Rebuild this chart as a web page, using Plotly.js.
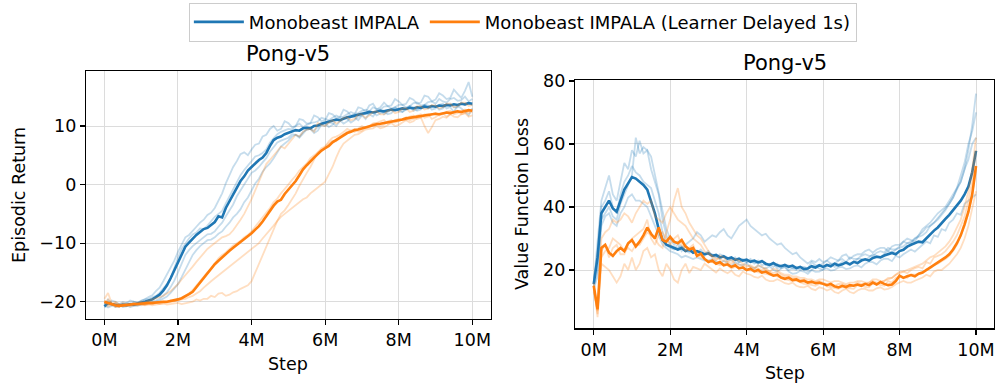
<!DOCTYPE html>
<html><head><meta charset="utf-8">
<script src="https://cdn.plot.ly/plotly-3.0.1.min.js"></script>
<style>html,body{margin:0;padding:0;background:#fff}#chart{width:995px;height:383px}</style>
</head><body><div id="chart"></div>
<script>
// ---------- data ----------
const steps = [0,0.1,0.2,0.3,0.4,0.5,0.6,0.7,0.8,0.9,1.0,1.1,1.2,1.3,1.4,1.5,1.6,1.7,1.8,1.9,2.0,2.1,2.2,2.3,2.4,2.5,2.6,2.7,2.8,2.9,3.0,3.1,3.2,3.3,3.4,3.5,3.6,3.7,3.8,3.9,4.0,4.1,4.2,4.3,4.4,4.5,4.6,4.7,4.8,4.9,5.0,5.1,5.2,5.3,5.4,5.5,5.6,5.7,5.8,5.9,6.0,6.1,6.2,6.3,6.4,6.5,6.6,6.7,6.8,6.9,7.0,7.1,7.2,7.3,7.4,7.5,7.6,7.7,7.8,7.9,8.0,8.1,8.2,8.3,8.4,8.5,8.6,8.7,8.8,8.9,9.0,9.1,9.2,9.3,9.4,9.5,9.6,9.7,9.8,9.9,10.0];

// Episodic return (left panel)
const returnMeanBase = [-20.8,-20.2,-20.4,-20.6,-20.7,-20.5,-20.6,-20.4,-20.5,-20.3,-20.2,-20.0,-19.8,-19.6,-19.2,-18.8,-18.1,-17.2,-16.0,-14.6,-13.2,-11.8,-10.6,-9.9,-9.2,-8.6,-8.1,-7.6,-7.4,-6.9,-6.4,-5.4,-5.6,-4.0,-2.8,-1.6,-0.4,0.6,1.4,2.4,3.0,3.6,4.2,4.6,5.4,6.6,7.6,8.0,8.2,8.6,8.8,9.0,9.3,9.2,9.6,9.7,9.6,10.0,10.1,10.4,10.6,10.7,10.9,11.1,11.0,11.3,11.5,11.6,11.8,11.9,12.1,12.2,12.4,12.3,12.5,12.6,12.5,12.7,12.8,12.7,12.9,13.0,12.9,13.1,13.0,13.2,13.1,13.3,13.2,13.4,13.3,13.5,13.4,13.6,13.5,13.7,13.6,13.8,13.7,13.9,13.8];
const returnMeanDelayed = [-20.0,-20.2,-20.5,-20.6,-20.7,-20.6,-20.5,-20.5,-20.4,-20.4,-20.3,-20.3,-20.2,-20.2,-20.1,-20.1,-20.0,-20.0,-19.9,-19.8,-19.6,-19.4,-19.1,-18.7,-18.3,-17.5,-16.6,-15.8,-15.0,-14.3,-13.6,-13.0,-12.4,-11.9,-11.3,-10.8,-10.3,-9.9,-9.4,-8.9,-8.3,-7.7,-7.1,-6.3,-5.4,-4.4,-3.6,-2.9,-2.6,-1.6,-0.9,-0.1,0.6,1.6,2.6,3.3,4.0,4.6,5.2,5.8,6.2,6.6,7.2,7.6,8.0,8.3,8.8,9.0,9.3,9.4,9.6,9.8,10.0,10.1,10.3,10.4,10.5,10.6,10.8,10.9,11.0,11.1,11.3,11.4,11.5,11.6,11.7,11.8,11.8,12.0,12.1,12.0,12.2,12.3,12.2,12.4,12.5,12.4,12.6,12.7,12.6];
const returnSeedsBase = [
  [-20.5,-19.6,-20.3,-20.8,-20.4,-20.6,-20.2,-20.5,-20.0,-20.3,-19.8, -19.6,-19.2,-18.9,-18.2,-17.6,-16.5,-15.4,-14.2,-13.0,-11.5, -10.2,-9.0,-8.6,-7.8,-7.2,-6.5,-6.0,-5.2,-4.8,-4.0, -2.8,-1.5,0.2,1.5,3.0,4.0,5.2,5.5,5.0,6.0, 6.8,7.0,8.2,8.5,9.5,10.0,9.2,9.5,10.8,10.5, 9.8,10.0,11.2,11.0,10.4,10.5,11.8,11.5,10.8,11.0, 12.2,12.0,11.4,11.5,12.8,12.5,11.8,12.0,13.2,13.0, 12.4,13.5,13.8,12.8,13.2,14.0,13.4,13.5,14.6,14.2, 13.6,13.8,14.8,14.5,13.8,14.0,15.2,15.0,14.2,14.5, 15.6,15.2,14.6,14.8,16.2,15.5,14.8,16.0,17.5,15.0],
  [-21.0,-20.4,-20.5,-20.9,-20.8,-20.6,-20.6,-20.9,-20.7,-20.5,-20.4, -20.3,-20.2,-19.9,-19.8,-19.5,-19.0,-18.4,-17.5,-16.4,-15.0, -13.4,-12.0,-11.2,-10.5,-10.0,-9.5,-9.0,-8.5,-8.4,-8.0, -7.2,-6.5,-5.4,-4.5,-3.4,-2.0,-1.0,0.0,1.2,2.0, 2.4,3.0,3.8,4.5,5.6,6.5,7.2,7.5,7.8,8.0, 8.6,8.5,8.2,9.0,9.4,9.5,9.2,9.8,10.2,10.5, 9.8,10.2,10.9,11.0,10.4,10.8,11.6,11.5,11.0,11.8, 12.2,12.0,11.6,12.5,12.8,12.0,12.4,12.8,13.2,12.5, 12.4,13.0,13.4,12.6,12.8,13.2,13.6,13.0,13.2,13.5, 12.8,13.0,13.6,13.8,13.2,13.2,14.0,13.6,14.0,13.5],
  [-20.6,-21.0,-20.7,-20.4,-20.5,-20.9,-20.8,-20.5,-20.6,-20.7,-20.5, -20.4,-20.3,-20.2,-20.0,-19.8,-19.5,-19.1,-18.5,-17.8,-17.0, -15.8,-14.5,-13.2,-12.0,-11.2,-10.5,-10.0,-9.5,-9.4,-9.0, -8.4,-8.0,-7.2,-6.5,-5.6,-5.0,-4.2,-3.0,-2.2,-1.0, 0.2,1.0,2.2,3.0,3.6,4.5,5.6,6.5,7.0,7.5, 8.2,8.5,8.0,8.8,9.4,9.5,8.8,9.2,10.2,10.0, 10.6,10.5,10.0,10.8,11.4,11.2,10.6,11.0,11.6,11.8, 11.2,12.2,12.4,11.8,12.2,12.5,12.0,12.2,13.0,13.0, 12.4,12.8,13.4,13.2,12.6,12.8,13.6,13.5,12.8,13.0, 13.6,13.8,13.0,13.2,12.4,13.5,13.0,12.5,11.8,13.0],
  [-20.2,-20.5,-19.8,-20.0,-20.4,-20.1,-20.3,-19.8,-20.0,-20.1,-19.9, -19.6,-19.5,-19.3,-19.0,-18.5,-17.8,-17.0,-16.0,-14.2,-12.5, -11.0,-10.0,-9.2,-8.5,-8.2,-7.5,-7.6,-7.0,-6.2,-5.5, -5.0,-4.5,-3.2,-2.0,-0.8,0.5,1.6,2.5,3.2,4.0, 4.8,5.0,5.4,6.0,7.2,8.0,8.6,9.0,9.2,9.5, 9.4,10.0,10.4,9.8,10.2,10.5,10.6,10.8,11.4,11.2, 11.0,11.4,11.8,11.5,11.6,12.0,12.4,12.1,12.2,12.6, 12.8,12.5,13.2,12.9,12.8,13.3,13.4,13.0,13.2,13.6, 13.6,13.2,13.4,13.9,14.0,13.5,13.6,14.1,14.2,13.8, 14.6,14.2,14.0,14.6,14.8,14.3,14.4,15.0,14.2,14.6]
];
const returnSeedsDelayed = [
  [-19.5,-18.5,-20.3,-20.0,-20.6,-20.2,-20.4,-20.5,-20.2,-20.3,-20.0, -20.1,-19.8,-19.6,-19.5,-19.2,-19.0,-18.6,-18.2,-17.6,-17.0, -16.2,-15.5,-14.8,-14.0,-13.2,-12.5,-11.8,-11.0,-10.5,-10.0, -9.4,-9.0,-8.8,-8.5,-7.8,-7.0,-6.0,-5.0,-3.8,-2.5, -1.0,0.5,2.0,3.5,4.2,5.0,5.8,6.5,6.2,7.0, 7.8,8.5,8.2,9.0,9.4,9.5,9.0,10.5,10.2,10.0, 10.6,11.0,10.4,10.8,11.4,11.5,11.0,11.2,12.0,12.0, 11.4,11.8,12.4,12.5,12.0,12.0,12.6,12.8,12.2,12.4, 13.0,13.0,12.4,12.6,13.4,13.4,12.8,13.0,13.6,13.5, 13.0,13.2,13.8,13.8,13.2,13.4,14.0,14.0,13.4,13.6],
  [-20.0,-20.8,-20.5,-20.9,-20.8,-20.6,-20.7,-20.6,-20.5,-20.6,-20.4, -20.5,-20.3,-20.4,-20.2,-20.1,-20.0,-20.1,-19.8,-19.9,-19.5, -19.4,-19.0,-18.6,-18.0,-17.2,-16.5,-15.8,-15.0,-14.4,-13.5, -12.6,-12.0,-11.6,-11.0,-10.4,-10.0,-9.6,-9.0,-8.6,-8.0, -7.2,-6.5,-5.8,-5.0,-4.0,-3.0,-2.4,-1.5,-0.8,0.0, 0.8,1.5,2.4,3.0,3.6,4.5,5.0,5.5,6.2,6.5, 7.0,7.5,7.4,8.0,8.6,9.0,9.2,9.5,9.0,9.2, 9.8,10.0,10.4,10.5,10.0,10.2,10.8,11.0,10.6,10.8, 11.2,11.5,11.0,11.2,11.8,12.0,11.4,11.6,12.0,12.2, 11.8,12.0,12.4,12.6,12.0,12.2,12.6,12.8,12.2,12.4],
  [-19.8,-20.4,-20.6,-20.2,-20.4,-20.8,-20.7,-20.5,-20.5,-20.3,-20.6, -20.5,-20.4,-20.6,-20.5,-20.4,-20.3,-20.5,-20.4,-20.2,-20.2, -20.4,-20.3,-20.1,-20.0,-19.6,-19.8,-19.5,-19.5,-19.0,-19.2, -18.6,-18.5,-19.0,-18.8,-18.4,-18.2,-17.8,-17.5,-17.2,-16.5, -15.0,-13.5,-12.0,-10.5,-9.0,-7.5,-6.2,-5.0,-4.4,-3.5, -2.6,-1.5,-0.2,1.0,2.0,3.0,4.2,5.5,5.8,6.5, 7.4,8.0,8.2,8.5,9.0,9.5,9.2,9.0,9.6,10.0, 9.6,9.8,10.4,10.5,10.8,11.0,10.4,10.6,11.0,11.2, 11.0,11.0,11.6,11.8,11.2,11.4,12.0,12.0,11.2,11.5, 12.0,12.2,11.6,12.0,12.4,12.6,12.0,12.2,12.6,12.8],
  [-20.3,-19.6,-20.4,-20.6,-20.9,-20.5,-20.5,-20.8,-20.6,-20.4,-20.3, -20.6,-20.5,-20.3,-20.2,-20.4,-20.3,-20.1,-20.0,-19.9,-19.8, -19.6,-19.5,-19.2,-19.0,-18.6,-18.2,-17.6,-17.0,-16.5,-16.0, -15.5,-15.0,-14.5,-14.0,-13.4,-13.0,-12.5,-12.0,-11.4,-11.0, -10.4,-10.0,-9.2,-8.5,-7.8,-7.0,-6.2,-5.5,-5.0,-4.5, -4.0,-3.5,-3.0,-2.5,-2.2,-1.5,-1.0,-0.5,0.0,0.5, 1.8,3.0,4.6,6.0,7.0,7.5,8.0,8.5,8.6,9.0, 9.4,9.5,9.6,10.0,9.6,9.8,10.2,10.5,10.0,10.2, 10.6,11.0,10.6,10.8,11.4,11.5,10.0,8.8,9.8,11.0, 11.2,11.6,11.4,12.0,11.6,11.5,12.0,12.2,11.6,11.8]
];

// Value function loss (right panel)
const lossMeanBase = [15.5,24,38,40,42,39.5,38.5,42,45.5,47.5,49.5,49,48,47,45.5,42,38,33,29.5,28,27.5,27,26.5,27,26,26.5,25.5,26,25.5,25,25.3,24.5,24.8,24,24.3,23.6,24,23.2,23.6,23,23.3,22.6,23,22.4,22.8,22,21.6,22.2,21.5,21.2,21.6,21,21.4,20.6,21,20.3,20.5,21.2,20.8,21.5,21,21.6,21.2,22,21.5,21.8,22.4,21.8,22.6,22.2,23,23.4,23,23.8,24.2,24,24.6,25,25.4,25,26,26.4,27.4,28,28.4,29,28.8,30,31.5,32.5,33.5,35,36.2,37.5,39,40.5,42,44,46.5,51,57.8];
const lossMeanDelayed = [15,7.5,27,28,25.5,24.5,26,27,26,28.5,29.5,27.5,29,31,33.5,31.5,30,33.5,29.5,29,30.5,29,28.5,29.5,27.5,26.5,27,24.5,25.2,23.5,22.5,23,22,22.5,21.5,21.8,21,21.5,20.5,20.8,20,20.4,19.6,20,19.2,19.5,18.8,18.2,18.5,17.6,17.2,17.6,16.8,17,16.4,16.6,16,16.3,15.8,16,15.6,15.2,15.6,14.8,14.5,15,14.6,15.2,15,15.4,15,15.6,15.2,16,15.4,16.2,15.6,15.2,15.4,16.5,18.2,17.5,18,18.4,18,18.8,19.2,20,20.8,21.6,22.4,23,24,25,26.5,28.5,31,34.5,38.5,44,53];
const lossSeedsBase = [
  [16,30,42,46,50,44,42,48,54,52,58, 56,61,57,58,52,48,44,36,31,28, 27,28,26,27.5,26,27,25.5,26.5,25,26, 24.5,24,25,24.5,23,23.5,24,22.5,23.5,22.5, 23,22,23,21.5,22,21.5,22,20.5,21.5,21, 20,20.5,21,20,20.5,19.5,20,21,20.5,20, 21.5,22,21,21.5,22.5,22,21.5,22.5,23.5,23.5, 23,24,25,24.5,24,25,26,25.5,26.5,27, 27.5,28.5,29,30,30.5,31,32,34,35,36, 37.5,39,41,43,45.5,48,52,58,66,76],
  [15,20,36,38,40,37,36,41,44,47,50, 62,57,59,58,56,50,44,38,33,30, 28,29,27,28,29,30,32,31,29,30, 31,30.5,32,33,31,30,32,34,35,36, 34,33,32,31,31.5,30,29,28,28.5,27, 26,25,25.5,24,23,22,23,22.5,23.5,22.5, 23,24,23.5,23,24.5,25,23.5,24.5,25,25, 26,26.5,25.5,26.5,27,27,26,27.5,28,28, 29,30,29.5,29,31,33,34,35,36.5,38, 39,40,42,44,46,50,54,60,64,70],
  [14,18,34,37,38,35,34,38,40,43,44, 42,42,41,40,37,34,31,28,27,26, 25.5,25,24,24.5,24,23.5,24,23.5,23,23, 23.5,22.8,22,23,22,21.2,22.5,21.8,21.5,22.2, 21,20.4,21.5,20.8,20.5,21.2,20,19.5,20.5,20.9, 19.5,18.8,19,19.8,19.5,18.8,20,19.4,19.5,20.2, 20.5,19.8,20,20.8,21,20.3,20.5,21.2,21.5,20.8, 22,22.6,22.5,21.8,23,23.6,23.5,22.8,24.5,24, 25,25.8,26.5,25.8,27,28,29,28.5,31,30.5, 33,32.5,35,36,38,37.5,41,42,43,44],
  [16,26,40,42,45,40,38,44,48,50,53, 51,50,48,47,46,42,38,32,28,27, 26.5,27,27.5,26,25.5,26.5,26,25,24.5,25.5, 25,24.5,23.5,24.5,24,23,23.5,22.5,23,22.5, 23.5,22.5,22,23,21.5,22,21,22,20.5,21.5, 21.5,20.5,20,21,21,20.5,22.5,21.5,21.5,22, 23,22,22,23,23.5,22.5,24,23.5,23.5,24.5, 25,24.5,24.5,25.5,26,25.5,27,26.5,26.5,27.5, 29,28.5,28.5,30,31,32,33.5,34,35,36.5, 38,39.5,41,43,46,48,52,55,60,62]
];
const lossSeedsDelayed = [
  [14,6,30,32,33,36,35,36,38,37,35, 38,40,42,41,42,37,36,35,38,40, 38,36,35,34,32,30,29,28,26,25, 24.5,23.6,23.5,22.8,22.5,23.2,22,21.6,21.5,21, 21.5,20.8,20.5,20,20.6,19.5,19,19.4,18.5,18, 18,17.4,17.5,16.8,17,16.5,15.8,16.2,16.5,16, 15.5,15,15,15.6,15.5,15,14.6,15.2,16,15.6, 15.5,16,16.5,16,16,16.6,17,17.5,18.5,19, 19.5,19,20,20.6,21,20.5,22.5,22,24,24.5, 25,26,27.5,29,31,34,37,42,48,58],
  [16,5,22,21,20,18,16,18,22,20,24, 20,22,26,27,24,25,20,18,22,20, 17,16,20,22,19,21,20.5,20,22,21, 20,19.2,20.5,19.6,19,19.8,18.5,18,19.5,18.8, 18.5,17.8,17.5,18.2,17,16.5,16.5,17.1,16.5,15.8, 15.5,16,15,14.6,14.5,15,14,13.6,14.5,14.2, 13.5,14,13,12.6,13.5,14,13,12.6,13.5,14, 14,13.5,13.5,14.2,14.5,13.8,14,14.6,15.5,16, 16.5,16,16,16.6,17,17.6,18.5,18,19.5,20, 20,21,22,23.5,25,27,30,34,39,45],
  [15,8,26,28,24,27,28,25,25,28,30, 31,32,33,36,30,28,31,32,30,28, 30,31,28,26,27,28,25,24,23.5,23, 22.5,22,21.5,22,21.5,20.5,21,21,20.5,20, 19.8,19.5,19.2,19,18.8,18.5,18.2,18,17.5,17, 16.8,16.5,16.6,16,15.6,15.5,15.2,15,15.6,15.5, 14.8,14.5,14.2,14,14.6,14.5,14.2,14,15.2,15, 14.6,14.5,15.8,15.5,15.2,15,16.5,16,17.5,18, 17.8,17.5,18.6,18.5,18.8,19,20.2,20.5,21.5,22, 22.8,23.5,24.5,26,28,31,34,38,44,52],
  [13,7,24,26,27,30,29,28,26,27,26, 28,28,30,32,31,30,28,27,32,36, 42,46,40,38,35,33,31,30,28,26, 24,23,24.5,24,22.5,22,23.5,23,22,21.5, 21,20.5,21.5,21,20,19.5,20.5,20,19,18.5, 18.5,18,18,17.5,17.5,17,17,16.5,17,17, 16.5,16,16.5,16.5,16,15.5,16,16,16.5,16.5, 16,16,17,17,16.5,16.5,17.5,17.5,18.5,19.5, 19.5,20,20.5,21,21.5,22,23,24,24.5,25.5, 26.5,27.5,29,31,33.5,36,40,45,52,62]
];

const seriesNames = ['Monobeast IMPALA', 'Monobeast IMPALA (Learner Delayed 1s)'];
const panelTitles = ['Pong-v5', 'Pong-v5'];
const xTitle = 'Step';
const yTitles = ['Episodic Return', 'Value Function Loss'];
const xTickVals = [0,2,4,6,8,10];
const xTickText = ['0M','2M','4M','6M','8M','10M'];
const yTickValsL = [-20,-10,0,10];
const yTickTextL = ['\u221220','\u221210','0','10'];
const yTickValsR = [20,40,60,80];
const yTickTextR = ['20','40','60','80'];

// ---------- styling ----------
const BLUE = '#1f77b4', ORANGE = '#ff7f0e';
const FONT = 'DejaVu Sans, Verdana, sans-serif';
const traces = [];
function addPanel(xa, ya, seedsA, meanA, seedsB, meanB, legend) {
  seedsA.forEach(s => traces.push({type:'scatter', mode:'lines', x:steps, y:s, xaxis:xa, yaxis:ya,
    line:{color:BLUE, width:1.8}, opacity:0.26, showlegend:false, hoverinfo:'skip'}));
  traces.push({type:'scatter', mode:'lines', x:steps, y:meanA, xaxis:xa, yaxis:ya, name:seriesNames[0],
    line:{color:BLUE, width:2.6}, showlegend:legend, legendgroup:'a'});
  seedsB.forEach(s => traces.push({type:'scatter', mode:'lines', x:steps, y:s, xaxis:xa, yaxis:ya,
    line:{color:ORANGE, width:1.8}, opacity:0.26, showlegend:false, hoverinfo:'skip'}));
  traces.push({type:'scatter', mode:'lines', x:steps, y:meanB, xaxis:xa, yaxis:ya, name:seriesNames[1],
    line:{color:ORANGE, width:2.6}, showlegend:legend, legendgroup:'b'});
}
addPanel('x','y', returnSeedsBase, returnMeanBase, returnSeedsDelayed, returnMeanDelayed, true);
addPanel('x2','y2', lossSeedsBase, lossMeanBase, lossSeedsDelayed, lossMeanDelayed, false);

const axisCommon = {showline:true, linecolor:'#000', linewidth:1.2, mirror:true, ticks:'outside', ticklen:5,
  tickwidth:1.2, tickcolor:'#000', showgrid:true, gridcolor:'#dcdcdc', gridwidth:1, zeroline:false,
  tickfont:{family:FONT, size:17.5, color:'#000'}, fixedrange:true};

function label(text, x, y, size, angle) {
  return {text:text, xref:'paper', yref:'paper', x:x/995, y:1-y/383, xanchor:'center', yanchor:'middle',
    textangle:angle||0, showarrow:false, font:{family:FONT, size:size, color:'#000'}};
}

const layout = {
  width:995, height:383, margin:{l:0,r:0,t:0,b:0}, paper_bgcolor:'#fff', plot_bgcolor:'#fff',
  font:{family:FONT, color:'#000'},
  showlegend:true,
  legend:{orientation:'h', x:0.5255, xanchor:'center', y:0.993, yanchor:'top', bgcolor:'#fff',
    bordercolor:'#cccccc', borderwidth:1, font:{family:FONT, size:18, color:'#000'}, itemwidth:50},
  xaxis:Object.assign({}, axisCommon, {domain:[86/995, 490.7/995], range:[-0.5,10.5], tickvals:xTickVals, ticktext:xTickText, anchor:'y'}),
  yaxis:Object.assign({}, axisCommon, {domain:[1-319/383, 1-71/383], range:[-22.95,19.39], tickvals:yTickValsL, ticktext:yTickTextL, anchor:'x'}),
  xaxis2:Object.assign({}, axisCommon, {domain:[575/995, 994/995], range:[-0.49,10.47], tickvals:xTickVals, ticktext:xTickText, anchor:'y2'}),
  yaxis2:Object.assign({}, axisCommon, {domain:[1-328.3/383, 1-80.3/383], range:[1.5,80.2], tickvals:yTickValsR, ticktext:yTickTextR, anchor:'x2'}),
  annotations:[
    label(panelTitles[0], 288, 54, 21),
    label(panelTitles[1], 785, 63, 21),
    label(xTitle, 288, 364, 17.5),
    label(xTitle, 785, 373, 17.5),
    label(yTitles[0], 19, 195, 17.5, -90),
    label(yTitles[1], 522, 204, 17.5, -90)
  ]
};
Plotly.newPlot('chart', traces, layout, {staticPlot:true, displayModeBar:false});
</script>
</body></html>
